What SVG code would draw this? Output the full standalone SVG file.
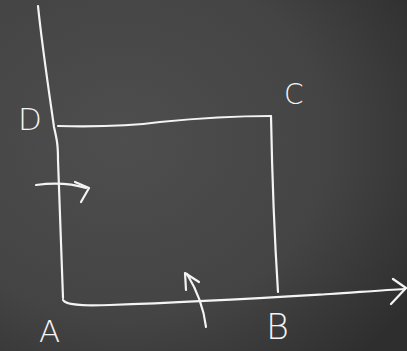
<svg xmlns="http://www.w3.org/2000/svg" width="407" height="351" viewBox="0 0 407 351">
  <defs>
    <radialGradient id="bg" cx="0.3" cy="0.4" r="0.85">
      <stop offset="0" stop-color="#4e4e4e"/>
      <stop offset="0.6" stop-color="#444444"/>
      <stop offset="1" stop-color="#2e2e2e"/>
    </radialGradient>
    <style>
      .chalk { fill: none; stroke: #f4f4f4; stroke-width: 2.2; stroke-linecap: round; stroke-linejoin: round; }
      .lbl { fill: #f4f4f4; font-family: "DejaVu Sans", "Liberation Sans", sans-serif; font-weight: 300; }
    </style>
  </defs>
  <rect width="407" height="351" fill="url(#bg)"/>

  <g id="axes">
    <path class="chalk" d="M38,6 C42,45 48,85 54,127 C57,140 58,145 58,160 L63,298"/>
    <path class="chalk" d="M63,300 C66,305 80,306 110,305 C200,302 280,297 330,294 C360,292 385,290 405,289"/>
    <path class="chalk" d="M393,279 L406,288 L391,304"/>
  </g>

  <g id="square">
    <path class="chalk" d="M58,126 C100,127 130,126 160,122 C200,118 240,116 271,116"/>
    <path class="chalk" d="M271,116 C272,170 274,230 278,292"/>
  </g>

  <g id="connectors">
    <path class="chalk" d="M36,185 C50,183 70,183 86,188"/>
    <path class="chalk" d="M75,182 L89,188 L81,202"/>
    <path class="chalk" d="M206,327 C204,310 198,292 187,274"/>
    <path class="chalk" d="M186,290 L185,273 L199,282"/>
  </g>

  <g id="labels">
    <text class="lbl" x="284" y="104" font-size="28">C</text>
    <text class="lbl" x="18" y="130" font-size="31">D</text>
    <text class="lbl" x="39" y="342" font-size="31">A</text>
    <text class="lbl" x="266" y="339" font-size="35">B</text>
  </g>
</svg>
